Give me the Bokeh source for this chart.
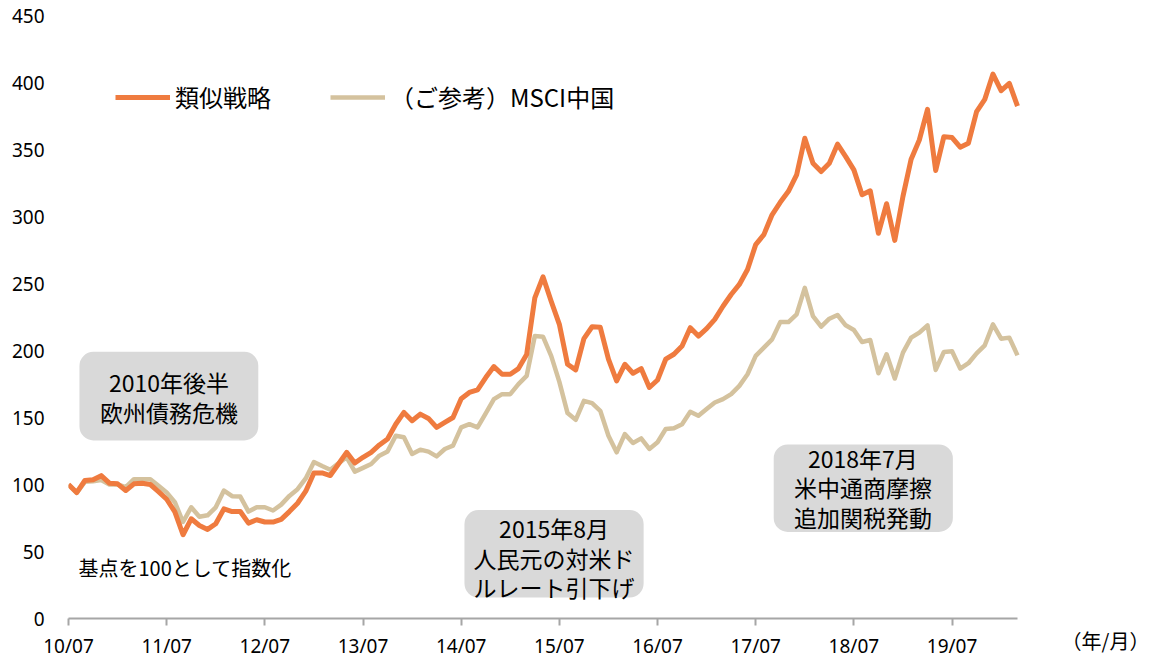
from bokeh.plotting import figure
from bokeh.models import (Range1d, FixedTicker, Legend, LegendItem, Label,
                          BoxAnnotation, ColumnDataSource)
from bokeh.embed import file_html
from bokeh.resources import INLINE

# ---------------- data ----------------
strategy = [
    100, 94, 103, 103.5, 106.6, 101, 100.5, 95.5, 100.5, 101, 100, 94.7,
    89, 79.6, 62.5, 74.4, 69.4, 66.5, 70.7, 81.8, 79.8, 79.8, 71.2, 73.7,
    72, 72, 74, 79.8, 86, 95, 108.6, 108.6, 106.7, 115.3, 124, 116,
    120.3, 124, 129.5, 134, 145, 153.8, 147.6, 152.5, 149.3, 142.6, 146.3, 150,
    164, 168.7, 170.6, 179.8, 188, 182.3, 182.3, 186.5, 197, 239.3, 255, 236.8,
    219.5, 189.7, 185.5, 208.8, 217.7, 217.3, 193.5, 177.3, 189.7, 183, 186.5, 172.4,
    178, 193.5, 197.2, 203.4, 217, 210.8, 216.3, 223.2, 233, 241.8, 249.3, 260.4,
    279, 286.5, 301.3, 310.6, 318.8, 331, 358.4, 339.8, 333.6, 339.8, 354, 344.7,
    334.8, 316.2, 319.2, 287.5, 309.5, 282.2, 315, 342.8, 357.1, 380, 334.3, 359.6,
    358.9, 351.7, 354.7, 378.2, 387.4, 406.3, 393.9, 399.4, 382.4,
]
msci_china = [
    100, 93.7, 102, 102.5, 103.4, 100, 100, 98, 104, 104, 104, 99,
    94, 86.8, 72, 83, 76, 77, 83, 95.5, 91.3, 91, 79.8, 83,
    83, 80.6, 85, 91.5, 96.5, 104.5, 116.8, 113.8, 111, 115.8, 120.3, 109.6,
    112.4, 115.3, 121.5, 124.7, 136.4, 135.2, 122.8, 126, 124.5, 121, 126.5, 129,
    142.6, 145, 142.6, 153, 163.7, 167.4, 167.4, 174.9, 181, 210.8, 210.3, 196,
    176.6, 153.3, 148.3, 162.4, 160.7, 155, 136.4, 124, 137.6, 131, 134.4, 126.5,
    131.5, 141.4, 141.9, 145, 154.3, 151.3, 156.3, 161.2, 163.7, 167.4, 173.6, 182.3,
    196, 202.2, 208.3, 221.2, 221.2, 227, 246.8, 225.7, 217.8, 223.7, 226.5, 218.8,
    215.3, 206.3, 207.8, 183, 197.2, 179.1, 198.4, 209.6, 213.3, 218.8, 185.5, 198.9,
    199.4, 186.5, 190.5, 197.9, 203.9, 219.5, 208.8, 209.6, 196.4,
]
tick_labels = ["10/07", "11/07", "12/07", "13/07", "14/07",
               "15/07", "16/07", "17/07", "18/07", "19/07"]
y_ticks = [0, 50, 100, 150, 200, 250, 300, 350, 400, 450]
series_names = ["類似戦略", "（ご参考）MSCI中国"]
notes = ["2010年後半\n欧州債務危機",
         "2015年8月\n人民元の対米ド\nルレート引下げ",
         "2018年7月\n米中通商摩擦\n追加関税発動"]
base_note = "基点を100として指数化"
unit_note = "（年/月）"

months = list(range(len(strategy)))
src = ColumnDataSource(dict(x=months, s=strategy, m=msci_china))

FONT = "Noto Sans CJK JP"
NUMFONT = "Noto Sans"
ORANGE = "#EF7B3F"
TAN = "#D4C29E"

# frame from x=68px to x=1110px; 8.181 px per month (last month at 1017px)
x_end = len(strategy) - 1 + (1110 - 1017) / 8.181

p = figure(width=1150, height=657, output_backend="svg", toolbar_location=None,
           x_range=Range1d(0, x_end), y_range=Range1d(0, 450),
           min_border_left=68, min_border_right=40, min_border_top=15,
           min_border_bottom=36)
p.outline_line_color = None
p.xgrid.visible = False
p.ygrid.visible = False
p.background_fill_color = "white"
p.border_fill_color = "white"

# y axis
p.yaxis.ticker = FixedTicker(ticks=y_ticks)
p.yaxis.axis_line_color = None
p.yaxis.major_tick_line_color = None
p.yaxis.minor_tick_line_color = None
p.yaxis.major_tick_out = 0
p.yaxis.major_label_standoff = 24
p.yaxis.major_label_text_font = NUMFONT
p.yaxis.major_label_text_font_size = "19px"
p.yaxis.major_label_text_color = "#000000"

# x axis
xa = p.xaxis[0]
xa.bounds = (0, len(strategy) - 1)
xa.ticker = FixedTicker(ticks=[12 * i for i in range(len(tick_labels))])
xa.major_label_overrides = {12 * i: t for i, t in enumerate(tick_labels)}
xa.axis_line_color = "#A6A6A6"
xa.axis_line_width = 2
xa.major_tick_line_color = "#A6A6A6"
xa.major_tick_line_width = 2
xa.major_tick_in = 0
xa.major_tick_out = 7
xa.minor_tick_line_color = None
xa.major_label_standoff = 7
xa.major_label_text_font = NUMFONT
xa.major_label_text_font_size = "19px"
xa.major_label_text_color = "#000000"
xa.axis_label = unit_note + "\u2002"
xa.axis_label_align = "end"
xa.axis_label_standoff = -36
xa.axis_label_text_font = FONT
xa.axis_label_text_font_size = "20px"
xa.axis_label_text_font_style = "normal"
xa.axis_label_text_color = "#000000"

# lines
r_tan = p.line("x", "m", source=src, line_color=TAN, line_width=4.5,
               line_join="round")
r_or = p.line("x", "s", source=src, line_color=ORANGE, line_width=5,
              line_join="round")

legend = Legend(items=[LegendItem(label=series_names[0], renderers=[r_or]),
                       LegendItem(label=series_names[1], renderers=[r_tan])],
                orientation="horizontal", location=(47, 504),
                glyph_width=55, glyph_height=28, label_height=28,
                label_standoff=5, spacing=59, padding=0, margin=0,
                border_line_color=None, background_fill_alpha=0,
                label_text_font=FONT, label_text_font_size="24px",
                label_text_color="#000000")
p.add_layout(legend)

# note boxes (left, right, top, bottom in data units) and text centers
boxes = [(1.34, 23.2, 199.0, 132.9), (48.4, 70.3, 80.9, 15.6),
         (86.2, 108.1, 129.9, 64.6)]
centers = [(12.28, 165.5), (59.35, 45.3), (97.1, 97.8)]
for (l, r, t, b), (cx, cy), txt in zip(boxes, centers, notes):
    p.add_layout(BoxAnnotation(left=l, right=r, top=t, bottom=b,
                               fill_color="#D9D9D9", fill_alpha=1,
                               line_color=None, border_radius=14,
                               level="underlay"))
    p.add_layout(Label(x=cx, y=cy, text=txt, text_align="center",
                       text_baseline="middle", text_font=FONT,
                       text_font_size="23px", text_color="#000000",
                       text_line_height=0.87))

p.add_layout(Label(x=1.22, y=37.9, text=base_note, text_align="left",
                   text_baseline="middle", text_font=FONT,
                   text_font_size="20px", text_color="#000000"))

open("out.html", "w").write(file_html(p, INLINE))
